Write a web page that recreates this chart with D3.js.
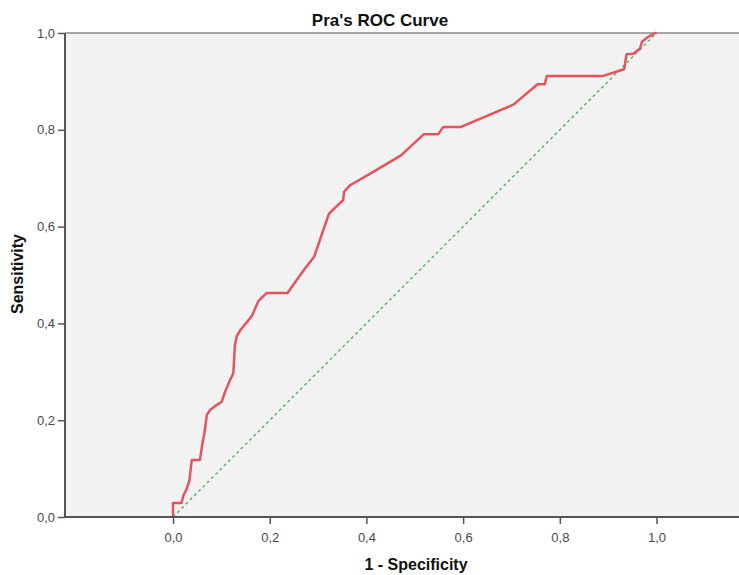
<!DOCTYPE html>
<html>
<head>
<meta charset="utf-8">
<script src="https://cdn.jsdelivr.net/npm/d3@7"></script>
<style>
  body { margin: 0; background: #fff; }
  svg { font-family: "Liberation Sans", Arial, sans-serif; }
  .tick text { font-size: 13px; fill: #4a4a4a; }
</style>
</head>
<body>
<div id="chart"></div>
<script>
(function () {
  // 1 - specificity and sensitivity
  const fpr = [
    0, 0, 0.0176, 0.0217, 0.029, 0.034, 0.0387, 0.0558, 0.06, 0.065,
    0.070, 0.0765, 0.0869, 0.1007, 0.1075, 0.118, 0.1247, 0.128, 0.132, 0.1406,
    0.163, 0.1764, 0.1938, 0.2368, 0.271, 0.2916, 0.3226, 0.352, 0.3537, 0.367,
    0.407, 0.4716, 0.519, 0.5487, 0.559, 0.5957, 0.704, 0.754, 0.769, 0.773,
    0.888, 0.933, 0.938, 0.952, 0.966, 0.970, 0.981, 0.997, 1
  ];
  const tpr = [
    0, 0.029, 0.029, 0.045, 0.060, 0.076, 0.118, 0.118, 0.147, 0.174,
    0.211, 0.221, 0.229, 0.238, 0.258, 0.283, 0.297, 0.355, 0.374, 0.388,
    0.415, 0.446, 0.463, 0.463, 0.511, 0.537, 0.627, 0.655, 0.672, 0.686,
    0.709, 0.747, 0.791, 0.791, 0.806, 0.806, 0.852, 0.894, 0.894, 0.911,
    0.911, 0.925, 0.956, 0.957, 0.968, 0.982, 0.991, 1, 1
  ];
  const refLine = [0, 1];
  const xTicks = [0, 0.2, 0.4, 0.6, 0.8, 1.0];
  const yTicks = [0, 0.2, 0.4, 0.6, 0.8, 1.0];

  const W = 739, H = 575;
  const plot = {left: 65, right: 739, top: 33, bottom: 517};

  const x = d3.scaleLinear().domain([-0.2234, 1.1706]).range([plot.left, plot.right]);
  const y = d3.scaleLinear().domain([0, 1]).range([plot.bottom, plot.top]);
  const fmt = d => d3.format(".1f")(d).replace(".", ",");

  const svg = d3.select("#chart").append("svg")
    .attr("width", W)
    .attr("height", H);

  svg.append("rect")
    .attr("x", plot.left)
    .attr("y", plot.top)
    .attr("width", plot.right - plot.left)
    .attr("height", plot.bottom - plot.top)
    .attr("fill", "#f2f2f2");

  // frame line on top
  svg.append("line")
    .attr("x1", plot.left).attr("x2", plot.right)
    .attr("y1", plot.top).attr("y2", plot.top)
    .attr("stroke", "#8a8a8a")
    .attr("stroke-width", 1.5);

  // reference diagonal
  svg.append("path")
    .datum(refLine)
    .attr("fill", "none")
    .attr("stroke", "#5db462")
    .attr("stroke-width", 1.5)
    .attr("stroke-dasharray", "3,3")
    .attr("d", d3.line().x(d => x(d)).y(d => y(d)));

  const curve = fpr.map((f, i) => ({f: f, t: tpr[i]}));
  svg.append("path")
    .datum(curve)
    .attr("fill", "none")
    .attr("stroke", "#e4545c")
    .attr("stroke-width", 2.5)
    .attr("stroke-linejoin", "round")
    .attr("d", d3.line().x(d => x(d.f)).y(d => y(d.t)));

  const xAxis = svg.append("g")
    .attr("transform", "translate(0," + plot.bottom + ")")
    .call(d3.axisBottom(x).tickValues(xTicks).tickFormat(fmt).tickSize(7).tickPadding(9));
  xAxis.select(".domain").remove();
  xAxis.selectAll(".tick line").attr("stroke", "#555").attr("stroke-width", 1.5);

  const yAxis = svg.append("g")
    .attr("transform", "translate(" + plot.left + ",0)")
    .call(d3.axisLeft(y).tickValues(yTicks).tickFormat(fmt).tickSize(7).tickPadding(3));
  yAxis.select(".domain").remove();
  yAxis.selectAll(".tick line").attr("stroke", "#555").attr("stroke-width", 1.5);

  // axis lines
  svg.append("line")
    .attr("x1", plot.left).attr("x2", plot.right)
    .attr("y1", plot.bottom).attr("y2", plot.bottom)
    .attr("stroke", "#555").attr("stroke-width", 2);
  svg.append("line")
    .attr("x1", plot.left).attr("x2", plot.left)
    .attr("y1", plot.top).attr("y2", plot.bottom)
    .attr("stroke", "#555").attr("stroke-width", 2);

  svg.append("text")
    .attr("x", 380)
    .attr("y", 26)
    .attr("text-anchor", "middle")
    .attr("font-size", 17)
    .attr("font-weight", "bold")
    .attr("fill", "#111")
    .text("Pra's ROC Curve");

  svg.append("text")
    .attr("x", 416)
    .attr("y", 570)
    .attr("text-anchor", "middle")
    .attr("font-size", 16)
    .attr("font-weight", "bold")
    .attr("fill", "#111")
    .text("1 - Specificity");

  svg.append("text")
    .attr("transform", "translate(23,274) rotate(-90)")
    .attr("text-anchor", "middle")
    .attr("font-size", 16)
    .attr("font-weight", "bold")
    .attr("fill", "#111")
    .text("Sensitivity");
})();
</script>
</body>
</html>
